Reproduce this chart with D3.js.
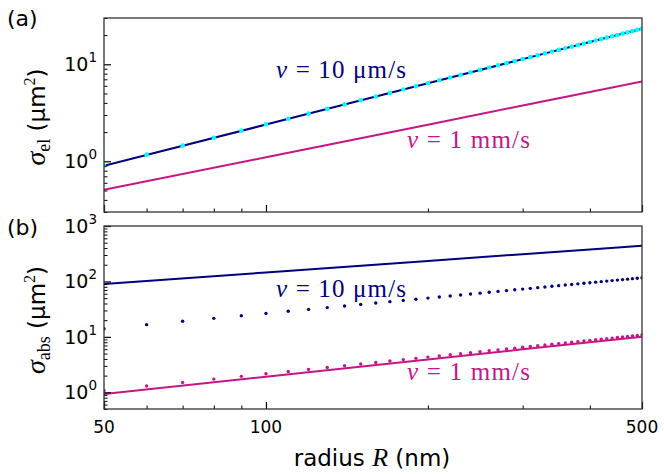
<!DOCTYPE html>
<html><head><meta charset="utf-8">
<script src="https://cdn.jsdelivr.net/npm/d3@7"></script>
<style>body{margin:0;background:#fff} svg{display:block}</style>
</head><body><svg id="c" width="664" height="474"></svg>
<script>
// ---------- data ----------
const radiusTicks = [50, 100, 500];
const radiusMinor = [60, 70, 80, 90, 200, 300, 400];
const lineRadius = [50, 100, 200, 300, 400, 500];
const dotRadius = [50, 60, 70, 80, 90, 100, 110, 120, 130, 140, 150, 160, 170, 180, 190, 200,
  210, 220, 230, 240, 250, 260, 270, 280, 290, 300, 310, 320, 330, 340, 350, 360, 370, 380,
  390, 400, 410, 420, 430, 440, 450, 460, 470, 480, 490, 500];

// (a) sigma_el
const elSlowLine = [0.90, 2.39, 6.38, 11.3, 17.0, 23.3];   // v = 10 µm/s
const elFastLine = [0.51, 1.10, 2.38, 3.76, 5.18, 6.64];   // v = 1 mm/s
const elSlowDots = [0.90, 1.17, 1.45, 1.75, 2.07, 2.40, 2.74, 3.10, 3.47, 3.86, 4.25, 4.66,
  5.07, 5.50, 5.94, 6.38, 6.84, 7.30, 7.78, 8.26, 8.75, 9.25, 9.75, 10.27, 10.79, 11.32,
  11.85, 12.40, 12.95, 13.51, 14.07, 14.64, 15.22, 15.81, 16.40, 16.99, 17.60, 18.21, 18.82,
  19.45, 20.07, 20.70, 21.34, 21.99, 22.64, 23.29];

// (b) sigma_abs
const absSlowLine = [90, 145, 234, 310, 378, 441];
const absFastLine = [0.93, 1.91, 3.92, 5.96, 8.02, 10.1];
const absSlowDots = [14.0, 16.6, 19.1, 21.6, 24.0, 26.5, 28.9, 31.3, 33.7, 36.1, 38.5, 40.8,
  43.2, 45.5, 47.8, 50.1, 52.4, 54.7, 57.0, 59.3, 61.5, 63.8, 66.1, 68.3, 70.6, 72.8, 75.0,
  77.2, 79.5, 81.7, 83.9, 86.1, 88.3, 90.5, 92.7, 94.8, 97.0, 99.2, 101.4, 103.5, 105.7,
  107.9, 110.0, 112.2, 114.3, 116.5];
const absFastDots = [1.08, 1.30, 1.51, 1.73, 1.94, 2.16, 2.38, 2.59, 2.81, 3.02, 3.24, 3.46,
  3.67, 3.89, 4.10, 4.32, 4.54, 4.75, 4.97, 5.18, 5.40, 5.62, 5.83, 6.05, 6.26, 6.48, 6.70,
  6.91, 7.13, 7.34, 7.56, 7.78, 7.99, 8.21, 8.42, 8.64, 8.86, 9.07, 9.29, 9.50, 9.72, 9.94,
  10.15, 10.37, 10.58, 10.80];

const topMajor = [1, 10], topMinor = [0.3,0.4,0.5,0.6,0.7,0.8,0.9,2,3,4,5,6,7,8,9,20,30];
const botMajor = [1, 10, 100, 1000];
const botMinor = [0.5,0.6,0.7,0.8,0.9,2,3,4,5,6,7,8,9,20,30,40,50,60,70,80,90,200,300,400,500,600,700,800,900];

// ---------- drawing ----------
const NAVY = "#000080", PINK = "#C71585", CYAN = "#00FFFF";
const svg = d3.select("#c");
const L = 104, R = 642;
const x = d3.scaleLog().domain([50, 500]).range([L, R]);

const panels = [
  {tag: "(a)", tagY: 26, top: 18, bottom: 212, domain: [0.3, 30], major: topMajor, minor: topMinor,
   lines: [[elSlowLine, NAVY], [elFastLine, PINK]],
   dots: [[elSlowDots, CYAN, 2.3]],
   sub: "el", titleY: 117,
   labels: [["10 ", "\u03bcm/s", NAVY, 276, 78, 130], ["1 ", "mm/s", PINK, 407, 148, 123]]},
  {tag: "(b)", tagY: 235, top: 226, bottom: 409, domain: [0.5, 1000], major: botMajor, minor: botMinor,
   lines: [[absSlowLine, NAVY], [absFastLine, PINK]],
   dots: [[absSlowDots, NAVY, 1.7], [absFastDots, PINK, 1.7]],
   sub: "abs", titleY: 320,
   labels: [["10 ", "\u03bcm/s", NAVY, 276, 297, 130], ["1 ", "mm/s", PINK, 407, 380, 123]]}
];

panels.forEach((p, i) => {
  const y = d3.scaleLog().domain(p.domain).range([p.bottom, p.top]);
  const g = svg.append("g");
  const cid = "clip" + i;
  svg.append("clipPath").attr("id", cid).append("rect")
    .attr("x", L).attr("y", p.top).attr("width", R - L).attr("height", p.bottom - p.top);
  const plot = g.append("g").attr("clip-path", `url(#${cid})`);

  const line = d3.line().x((d, k) => x(lineRadius[k])).y(d => y(d));
  p.lines.forEach(([vals, col]) => {
    plot.append("path").datum(vals).attr("d", line)
      .attr("fill", "none").attr("stroke", col).attr("stroke-width", 2);
  });
  p.dots.forEach(([vals, col, r]) => {
    plot.selectAll(null).data(vals).enter().append("circle")
      .attr("cx", (d, k) => x(dotRadius[k])).attr("cy", d => y(d))
      .attr("r", r).attr("fill", col);
  });

  // y ticks (inward)
  const ya = g.append("g").attr("transform", `translate(${L},0)`);
  ya.call(d3.axisLeft(y).tickValues(p.minor).tickSize(-3.5).tickFormat(""));
  ya.select(".domain").remove();
  const ya2 = g.append("g").attr("transform", `translate(${L},0)`);
  ya2.call(d3.axisLeft(y).tickValues(p.major).tickSize(-7).tickFormat(""));
  ya2.select(".domain").remove();
  ya.selectAll("line").attr("stroke", "#000").attr("stroke-width", 1);
  ya2.selectAll("line").attr("stroke", "#000").attr("stroke-width", 1.2);

  // y tick labels 10^n
  p.major.forEach(v => {
    const t = g.append("text").attr("x", 97).attr("y", y(v) + 7)
      .attr("text-anchor", "end").attr("font-family", "DejaVu Sans").attr("font-size", 19).attr("fill", "#000");
    t.append("tspan").text("10");
    t.append("tspan").attr("font-size", 13.5).attr("dy", -9).text(String(Math.round(Math.log10(v))));
  });

  // x ticks (inward) on bottom
  const xa = g.append("g").attr("transform", `translate(0,${p.bottom})`);
  xa.call(d3.axisBottom(x).tickValues(radiusMinor).tickSize(-3.5).tickFormat(""));
  xa.select(".domain").remove();
  const xa2 = g.append("g").attr("transform", `translate(0,${p.bottom})`);
  xa2.call(d3.axisBottom(x).tickValues(radiusTicks).tickSize(-7).tickFormat(""));
  xa2.select(".domain").remove();
  xa.selectAll("line").attr("stroke", "#000").attr("stroke-width", 1);
  xa2.selectAll("line").attr("stroke", "#000").attr("stroke-width", 1.2);

  // frame
  g.append("rect").attr("x", L).attr("y", p.top).attr("width", R - L).attr("height", p.bottom - p.top)
    .attr("fill", "none").attr("stroke", "#333").attr("stroke-width", 1.3);

  // panel tag
  g.append("text").attr("x", 7).attr("y", p.tagY).attr("font-family", "DejaVu Sans")
    .attr("font-size", 22).attr("fill", "#000").text(p.tag);

  // y title
  const yt = g.append("text").attr("transform", `translate(45,${p.titleY}) rotate(-90)`)
    .attr("text-anchor", "middle").attr("fill", "#000");
  yt.append("tspan").attr("font-family", "Liberation Serif").attr("font-style", "italic").attr("font-size", 28).text("\u03c3");
  yt.append("tspan").attr("font-family", "Liberation Serif").attr("font-size", 18).attr("dy", 5).text(p.sub);
  yt.append("tspan").attr("font-family", "DejaVu Sans").attr("font-size", 23).attr("dy", -5).text(" (\u03bcm");
  yt.append("tspan").attr("font-family", "Liberation Serif").attr("font-size", 16).attr("dy", -10).text("2");
  yt.append("tspan").attr("font-family", "DejaVu Sans").attr("font-size", 23).attr("dy", 10).text(")");

  // annotations
  p.labels.forEach(([num, unit, col, lx, ly, len]) => {
    const t = g.append("text").attr("x", lx).attr("y", ly).attr("fill", col)
      .attr("font-family", "Liberation Serif").attr("font-size", 25)
      .attr("textLength", len).attr("lengthAdjust", "spacing");
    t.append("tspan").attr("font-style", "italic").text("v");
    t.append("tspan").text(" = " + num + unit);
  });
});

// x tick labels
radiusTicks.forEach(v => {
  svg.append("text").attr("x", x(v)).attr("y", 433).attr("text-anchor", "middle")
    .attr("font-family", "DejaVu Sans").attr("font-size", 17).attr("fill", "#000").text(v);
});
// x title
const xt = svg.append("text").attr("x", 372).attr("y", 466).attr("text-anchor", "middle").attr("fill", "#000");
xt.append("tspan").attr("font-family", "DejaVu Sans").attr("font-size", 23).text("radius ");
xt.append("tspan").attr("font-family", "Liberation Serif").attr("font-style", "italic").attr("font-size", 26).text("R");
xt.append("tspan").attr("font-family", "DejaVu Sans").attr("font-size", 23).text(" (nm)");
</script>
</body></html>
